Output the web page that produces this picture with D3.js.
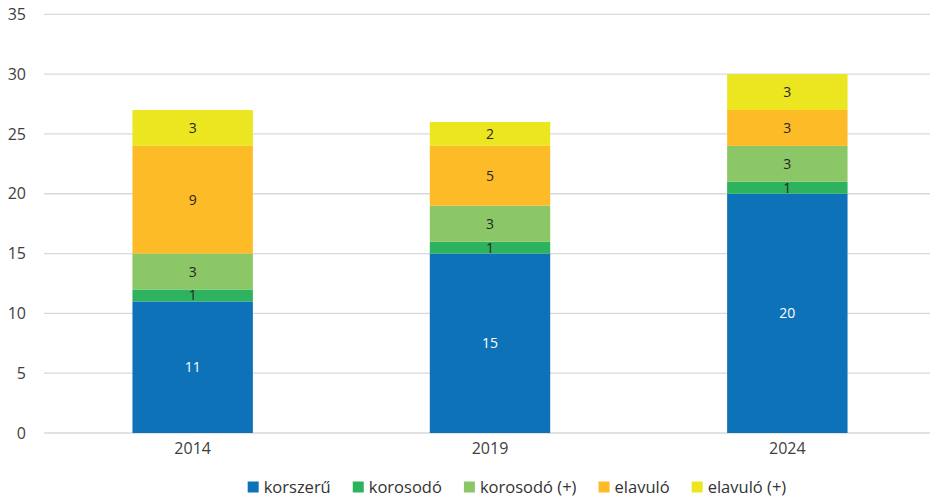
<!DOCTYPE html>
<html>
<head>
<meta charset="utf-8">
<script src="https://cdn.jsdelivr.net/npm/d3@7"></script>
<style>
  html, body { margin: 0; padding: 0; background: #fff; }
  svg { display: block; font-family: "Open Sans", Lato, sans-serif; }
</style>
</head>
<body>
<svg id="chart" width="930" height="498"></svg>
<script>
// Years on the x axis
const years = ["2014", "2019", "2024"];
// Stack segments, bottom to top
const seriesNames = ["korszerű", "korosodó", "korosodó (+)", "elavuló", "elavuló (+)"];
const seriesColors = ["#0e72b9", "#2db35d", "#8bc766", "#fdbb27", "#ebe61f"];
// Values per segment, one entry per year
const korszeru = [11, 15, 20];
const korosodo = [1, 1, 1];
const korosodoPlus = [3, 3, 3];
const elavulo = [9, 5, 3];
const elavuloPlus = [3, 2, 3];
const yTicks = [0, 5, 10, 15, 20, 25, 30, 35];

const seriesValues = [korszeru, korosodo, korosodoPlus, elavulo, elavuloPlus];
const rows = years.map((yr, i) => {
  const r = { year: yr };
  seriesNames.forEach((s, k) => { r[s] = seriesValues[k][i]; });
  return r;
});

const svg = d3.select("#chart");
const plotLeft = 44, plotRight = 936, plotTop = 14.3, plotBottom = 433;

const x = d3.scaleBand().domain(years).range([plotLeft, plotRight])
  .paddingInner(0.595).paddingOuter(0.2975);
const y = d3.scaleLinear().domain([0, 35]).range([plotBottom, plotTop]);

// Horizontal gridlines
svg.append("g").selectAll("line").data(yTicks).join("line")
  .attr("x1", plotLeft).attr("x2", 930)
  .attr("y1", d => y(d)).attr("y2", d => y(d))
  .attr("stroke", "#d9d9d9").attr("stroke-width", 1.3);

// Y axis labels
const yAxis = svg.append("g").attr("transform", "translate(26,0)")
  .call(d3.axisLeft(y).tickValues(yTicks).tickSize(0).tickPadding(0));
yAxis.select(".domain").remove();
yAxis.selectAll("text").attr("font-size", 16).attr("fill", "#404040")
  .attr("font-family", "'Open Sans', sans-serif").attr("x", 0).attr("dy", "0.32em");

// X axis labels
const xAxis = svg.append("g").attr("transform", `translate(0,${plotBottom})`)
  .call(d3.axisBottom(x).tickSize(0).tickPadding(10));
xAxis.select(".domain").remove();
xAxis.selectAll("text").attr("font-size", 16).attr("fill", "#404040")
  .attr("font-family", "'Open Sans', sans-serif");

// Stacked bars
const stacked = d3.stack().keys(seriesNames)(rows);
const layers = svg.append("g").selectAll("g").data(stacked).join("g")
  .attr("fill", (d, i) => seriesColors[i]);

layers.selectAll("rect").data(d => d).join("rect")
  .attr("x", d => x(d.data.year))
  .attr("width", x.bandwidth())
  .attr("y", d => y(d[1]))
  .attr("height", d => y(d[0]) - y(d[1]));

// Value labels inside each segment
layers.each(function (layer, i) {
  d3.select(this).selectAll("text").data(layer).join("text")
    .attr("x", d => x(d.data.year) + x.bandwidth() / 2)
    .attr("y", d => (y(d[0]) + y(d[1])) / 2)
    .attr("dy", "0.36em")
    .attr("text-anchor", "middle")
    .attr("font-size", 14)
    .attr("fill", i === 0 ? "#ffffff" : "#262626")
    .text(d => d[1] - d[0]);
});

// Legend along the bottom
const legend = svg.append("g");
const items = legend.selectAll("g").data(seriesNames).join("g");
items.append("rect").attr("width", 11).attr("height", 11)
  .attr("y", -11).attr("fill", (d, i) => seriesColors[i]);
items.append("text").attr("x", 16).attr("y", 0)
  .attr("font-size", 16.5).attr("fill", "#333333").text(d => d);
let cx = 0;
items.each(function () {
  const w = this.getBBox().width;
  d3.select(this).attr("transform", `translate(${cx},0)`);
  cx += w + 22;
});
const total = cx - 22;
legend.attr("transform", `translate(${517 - total / 2},492.5)`);
</script>
</body>
</html>
